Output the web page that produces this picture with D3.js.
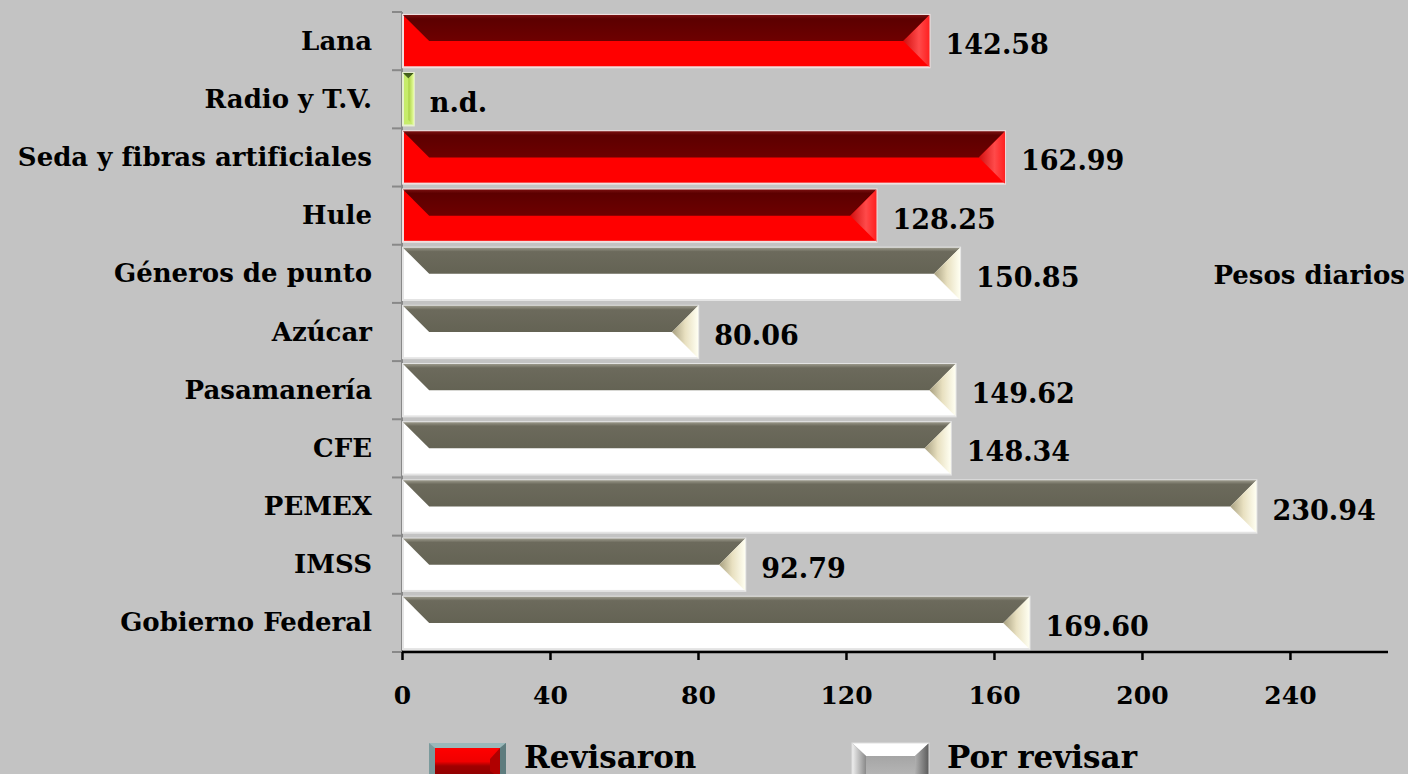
<!DOCTYPE html>
<html lang="es">
<head>
<meta charset="UTF-8">
<title>Pesos diarios</title>
<script src="https://d3js.org/d3.v7.min.js"></script>
<style>
  html, body { margin: 0; padding: 0; background: #c3c3c3; overflow: hidden; }
  svg { display: block; }
  text { font-family: "DejaVu Serif", "Liberation Serif", serif; font-weight: bold; fill: #000; }
</style>
</head>
<body>
<svg id="chart"></svg>
<script>
// data, top to bottom
const categories = ["Lana", "Radio y T.V.", "Seda y fibras artificiales", "Hule", "Géneros de punto",
  "Azúcar", "Pasamanería", "CFE", "PEMEX", "IMSS", "Gobierno Federal"];
const values = [142.58, 3.2, 162.99, 128.25, 150.85, 80.06, 149.62, 148.34, 230.94, 92.79, 169.60];
const valueLabels = ["142.58", "n.d.", "162.99", "128.25", "150.85", "80.06", "149.62", "148.34", "230.94", "92.79", "169.60"];
const status = ["rev", "nd", "rev", "rev", "por", "por", "por", "por", "por", "por", "por"];
const xTicks = [0, 40, 80, 120, 160, 200, 240];
const legendItems = [{ key: "rev", label: "Revisaron" }, { key: "por", label: "Por revisar" }];

const width = 1408, height = 774;
const svg = d3.select("#chart").attr("width", width).attr("height", height);

const x = d3.scaleLinear().domain([0, 266.5]).range([402, 1388]);
const y = d3.scaleBand().domain(categories).range([12, 652]).paddingInner(0.1).paddingOuter(0.05);

// gradients
const defs = svg.append("defs");
function grad(id, stops, vertical) {
  const g = defs.append("linearGradient").attr("id", id)
    .attr("x1", 0).attr("y1", 0).attr("x2", vertical ? 0 : 1).attr("y2", vertical ? 1 : 0);
  stops.forEach(([o, c]) => g.append("stop").attr("offset", o).attr("stop-color", c));
}
grad("revTop", [[0, "#7a1010"], [0.15, "#5c0000"], [1, "#6e0000"]], true);
grad("revRight", [[0, "#d01010"], [0.6, "#ff4a4a"], [1, "#ff2020"]], false);
grad("porTop", [[0, "#9a988a"], [0.15, "#6c6a5c"], [1, "#646354"]], true);
grad("porRight", [[0, "#a8a080"], [0.5, "#e8e0c0"], [1, "#fffff2"]], false);
grad("ndTop", [[0, "#3e5a18"], [1, "#56702a"]], true);
grad("ndRight", [[0, "#a8d040"], [1, "#e8ffa0"]], false);
grad("legRed", [[0, "#ff0000"], [0.45, "#f00000"], [0.6, "#a00000"], [1, "#8a0000"]], true);
grad("legGrayL", [[0, "#f0f0f0"], [1, "#8a8a8a"]], false);
grad("legGrayR", [[0, "#b0b0b0"], [1, "#5a5a5a"]], false);
grad("legGrayB", [[0, "#9a9a9a"], [1, "#bcbcbc"]], true);

const palette = {
  rev: { front: "#ff0000", top: "url(#revTop)", right: "url(#revRight)", edge: "#f0e0e0" },
  por: { front: "#ffffff", top: "url(#porTop)", right: "url(#porRight)", edge: "#e4e4e4" },
  nd:  { front: "#c6ec6a", top: "url(#ndTop)", right: "url(#ndRight)", edge: "#e8f0d0" }
};

// axes
const yAxis = svg.append("g").attr("transform", `translate(${x(0)},0)`);
yAxis.append("line").attr("x1", 0).attr("x2", 0).attr("y1", 12).attr("y2", 652)
  .attr("stroke", "#888").attr("stroke-width", 2);
const bounds = categories.map(c => y(c) - y.step() * y.paddingInner() / 2).concat([652]);
yAxis.selectAll("line.tk").data(bounds).join("line").attr("class", "tk")
  .attr("x1", -10).attr("x2", 0).attr("y1", d => d).attr("y2", d => d)
  .attr("stroke", "#888").attr("stroke-width", 2);

const xAxis = svg.append("g").attr("transform", "translate(0,652)")
  .call(d3.axisBottom(x).tickValues(xTicks).tickSize(8).tickPadding(26).tickFormat(d3.format("d")));
xAxis.select(".domain").attr("stroke", "#000").attr("stroke-width", 2.5)
  .attr("d", `M${x(0)},0H${x.range()[1]}`);
xAxis.selectAll(".tick line").attr("stroke", "#000").attr("stroke-width", 2.5);
xAxis.selectAll(".tick text").attr("font-size", 25).attr("font-family", null).attr("font-weight", null);

// category labels
svg.append("g").selectAll("text").data(categories).join("text")
  .attr("x", 372).attr("y", d => y(d) + y.bandwidth() / 2).attr("dy", "0.33em")
  .attr("text-anchor", "end").attr("font-size", 26).text(d => d);

// bars with bevel
const bars = svg.append("g").selectAll("g").data(categories).join("g");
bars.each(function(c, i) {
  const g = d3.select(this);
  const p = palette[status[i]];
  const x0 = x(0) + 1, x1 = x(values[i]), y0 = y(c), y1 = y(c) + y.bandwidth();
  const h = y1 - y0;
  const d = Math.min(h / 2, (x1 - x0) / 2);
  const ym = y0 + d;
  g.append("rect").attr("x", x0).attr("y", y0).attr("width", x1 - x0).attr("height", h)
    .attr("fill", p.front).attr("stroke", p.edge).attr("stroke-width", 2);
  g.append("path").attr("fill", p.top)
    .attr("d", `M${x0},${y0}L${x1},${y0}L${x1 - d},${ym}L${x0 + d},${ym}Z`);
  g.append("path").attr("fill", p.right)
    .attr("d", `M${x1},${y0}L${x1},${y1}L${x1 - d},${y1 - d}L${x1 - d},${ym}Z`);
});

// value labels
svg.append("g").selectAll("text").data(categories).join("text")
  .attr("x", (c, i) => x(values[i]) + 16)
  .attr("y", c => y(c) + y.bandwidth() / 2 + 13)
  .attr("font-size", 27).text((c, i) => valueLabels[i]);

// unit note
svg.append("text").attr("x", 1405).attr("y", 284).attr("text-anchor", "end")
  .attr("font-size", 26).text("Pesos diarios");

// legend
const legend = svg.append("g");
const legendX = [429, 852];
legendItems.forEach((item, i) => {
  const g = legend.append("g").attr("transform", `translate(${legendX[i]},743)`);
  const w = 77, h = 40;
  if (item.key === "rev") {
    g.append("rect").attr("width", w).attr("height", h).attr("fill", "#7a9a9c");
    g.append("path").attr("fill", "#9ab8ba").attr("d", `M0,0H${w}L${w - 6},5H6Z`);
    g.append("path").attr("fill", "#5e7c7e").attr("d", `M${w},0V${h}L${w - 6},${h - 5}V5Z`);
    g.append("rect").attr("x", 6).attr("y", 5).attr("width", w - 12).attr("height", h - 10).attr("fill", "url(#legRed)");
    g.append("path").attr("fill", "#b00000").attr("d", `M${w - 6},5V${h - 5}L${w - 16},${h - 12}V16Z`);
  } else {
    g.append("rect").attr("width", w).attr("height", h).attr("fill", "url(#legGrayB)");
    g.append("path").attr("fill", "#ffffff").attr("d", `M0,0H${w}L${w - 14},13H14Z`);
    g.append("path").attr("fill", "url(#legGrayL)").attr("d", `M0,0L14,13V${h}H0Z`);
    g.append("path").attr("fill", "url(#legGrayR)").attr("d", `M${w},0L${w - 14},13V${h}H${w}Z`);
    g.append("rect").attr("width", w).attr("height", h).attr("fill", "none").attr("stroke", "#e0e0e0");
  }
  g.append("text").attr("x", w + 18).attr("y", 25).attr("font-size", 31).text(item.label);
});
</script>
</body>
</html>
